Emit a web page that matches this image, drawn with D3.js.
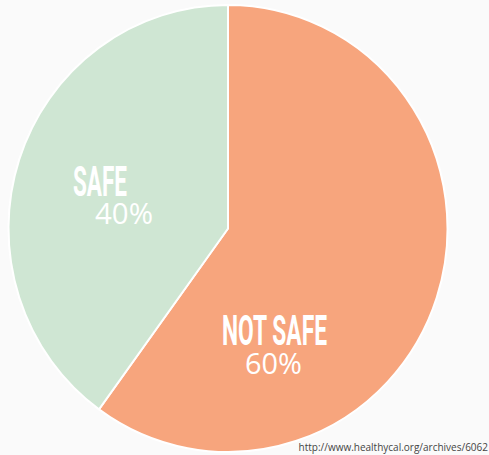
<!DOCTYPE html>
<html>
<head>
<meta charset="utf-8">
<script src="https://cdn.jsdelivr.net/npm/d3@7"></script>
<style>
  html, body { margin: 0; padding: 0; background: #fafafa; }
  svg { display: block; }
</style>
</head>
<body>
<svg id="chart" width="489" height="455"></svg>
<script>
// Share of items rated safe vs. not safe
const categories = ["NOT SAFE", "SAFE"];
const shares = [60, 40];
const percentLabels = ["60%", "40%"];
const colors = ["#f7a57d", "#cfe6d3"];
const sourceText = "http://www.healthycal.org/archives/6062";

const svg = d3.select("#chart");
const cx = 228, cy = 228.5, rx = 219.5, ry = 223.5;

const data = categories.map((c, i) => ({ name: c, value: shares[i], pct: percentLabels[i], color: colors[i] }));

const pie = d3.pie().value(d => d.value).sort(null);
const arc = d3.arc().innerRadius(0).outerRadius(rx);
const arcs = pie(data);

const g = svg.append("g")
  .attr("transform", `translate(${cx},${cy}) scale(1,${ry / rx})`);

g.selectAll("path")
  .data(arcs)
  .join("path")
  .attr("d", arc)
  .attr("fill", d => d.data.color)
  .attr("stroke", "#ffffff")
  .attr("stroke-width", 2)
  .attr("stroke-linejoin", "miter");

// Label positions for each slice (name line and percent line): [x, baseline, width]
const labelPos = {
  "SAFE": { name: [73, 196, 54], pct: [95, 224, 58] },
  "NOT SAFE": { name: [222, 345, 105], pct: [245, 374, 57] }
};

data.forEach(d => {
  const p = labelPos[d.name];
  const label = svg.append("text").attr("fill", "#ffffff");
  label.append("tspan")
    .attr("x", p.name[0]).attr("y", p.name[1])
    .attr("textLength", p.name[2])
    .attr("lengthAdjust", "spacingAndGlyphs")
    .attr("font-family", "Roboto, 'DejaVu Sans Condensed', sans-serif")
    .attr("font-weight", 700)
    .attr("font-size", 42)
    .text(d.name);
  label.append("tspan")
    .attr("x", p.pct[0]).attr("y", p.pct[1])
    .attr("textLength", p.pct[2])
    .attr("lengthAdjust", "spacingAndGlyphs")
    .attr("font-family", "'Open Sans', Lato, sans-serif")
    .attr("font-weight", 400)
    .attr("font-size", 29)
    .text(d.pct);
});

svg.append("text")
  .attr("x", 488).attr("y", 451)
  .attr("text-anchor", "end")
  .attr("font-family", "'Open Sans', sans-serif")
  .attr("font-size", 10)
  .attr("fill", "#444444")
  .text(sourceText);
</script>
</body>
</html>
